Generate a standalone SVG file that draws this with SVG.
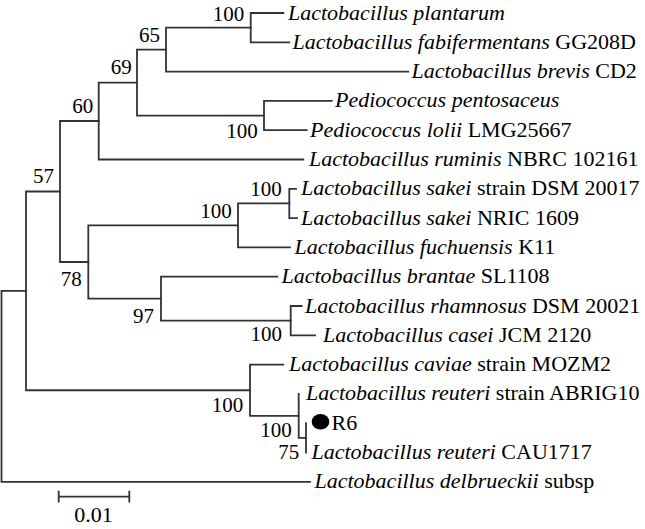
<svg xmlns="http://www.w3.org/2000/svg" width="645" height="529" viewBox="0 0 645 529">
<style>
.e{fill:none;stroke:#333;stroke-width:1.8;stroke-linecap:square}
.t{font-family:"Liberation Serif","Times New Roman",serif;font-size:22px;fill:#000}
.b{font-family:"Liberation Serif","Times New Roman",serif;font-size:21px;fill:#000;text-anchor:end}
.i{font-style:italic}
</style>
<rect width="645" height="529" fill="#fff"/>
<g id="connectors" class="e">
<path d="M1.5 290.9V481.8M1.5 290.9H26M1.5 481.8H310"/>
<path d="M26 191.5V390.25M26 191.5H60M26 390.25H250"/>
<path d="M60 121V262M60 121H98.7M60 262H88.3"/>
<path d="M98.7 82.6V159.5M98.7 82.6H137M98.7 159.5H303.3"/>
<path d="M137 49.6V115.55M137 49.6H166M137 115.55H264"/>
<path d="M166 27.65V71.6M166 27.65H250.7M166 71.6H408.3"/>
<path d="M250.7 13V42.3M250.7 13H283.3M250.7 42.3H289.3"/>
<path d="M264 100.9V130.2M264 100.9H331.7M264 130.2H306.7"/>
<path d="M88.3 225.4V298.7M88.3 225.4H238M88.3 298.7H161"/>
<path d="M238 203.45V247.4M238 203.45H289.3M238 247.4H290"/>
<path d="M289.3 188.8V218.1M289.3 188.8H296M289.3 218.1H297"/>
<path d="M161 276.7V320.65M161 276.7H277.3M161 320.65H290.7"/>
<path d="M290.7 306V335.3M290.7 306H301.7M290.7 335.3H315"/>
<path d="M250 364.6V415.9M250 364.6H283.3M250 415.9H298.7"/>
<path d="M298.7 393.9V437.85M298.7 437.85H306"/>
<path d="M306 423.2V452.5"/>
</g>
<g id="bootstrap">
<text class="b" x="244.3" y="20.7">100</text>
<text class="b" x="160" y="41.7">65</text>
<text class="b" x="131.7" y="74.3">69</text>
<text class="b" x="93.3" y="113.3">60</text>
<text class="b" x="257.7" y="138.3">100</text>
<text class="b" x="54" y="183.3">57</text>
<text class="b" x="281.7" y="195.7">100</text>
<text class="b" x="231.7" y="217.7">100</text>
<text class="b" x="81.7" y="286">78</text>
<text class="b" x="154" y="322.7">97</text>
<text class="b" x="282" y="341">100</text>
<text class="b" x="243.3" y="411.7">100</text>
<text class="b" x="291.7" y="436.7">100</text>
<text class="b" x="299.3" y="459.2">75</text>
</g>
<g id="leaf-plantarum"><text class="t" x="288" y="19.5"><tspan class="i">Lactobacillus plantarum</tspan></text></g>
<g id="leaf-fabifermentans"><text class="t" x="292.5" y="48.8"><tspan class="i">Lactobacillus fabifermentans</tspan> GG208D</text></g>
<g id="leaf-brevis"><text class="t" x="411.5" y="78.1"><tspan class="i">Lactobacillus brevis</tspan> CD2</text></g>
<g id="leaf-pentosaceus"><text class="t" x="335" y="107.4"><tspan class="i">Pediococcus pentosaceus</tspan></text></g>
<g id="leaf-lolii"><text class="t" x="310" y="136.7"><tspan class="i">Pediococcus lolii</tspan> LMG25667</text></g>
<g id="leaf-ruminis"><text class="t" x="309" y="166"><tspan class="i">Lactobacillus ruminis</tspan> NBRC 102161</text></g>
<g id="leaf-sakei-dsm"><text class="t" x="301" y="195.3"><tspan class="i">Lactobacillus sakei</tspan> strain DSM 20017</text></g>
<g id="leaf-sakei-nric"><text class="t" x="301" y="224.6"><tspan class="i">Lactobacillus sakei</tspan> NRIC 1609</text></g>
<g id="leaf-fuchuensis"><text class="t" x="294.5" y="253.9"><tspan class="i">Lactobacillus fuchuensis</tspan> K11</text></g>
<g id="leaf-brantae"><text class="t" x="281.5" y="283.2"><tspan class="i">Lactobacillus brantae</tspan> SL1108</text></g>
<g id="leaf-rhamnosus"><text class="t" x="305" y="312.5"><tspan class="i">Lactobacillus rhamnosus</tspan> DSM 20021</text></g>
<g id="leaf-casei"><text class="t" x="323" y="341.8"><tspan class="i">Lactobacillus casei</tspan> JCM 2120</text></g>
<g id="leaf-caviae"><text class="t" x="289" y="371.1"><tspan class="i">Lactobacillus caviae</tspan> strain MOZM2</text></g>
<g id="leaf-reuteri-abrig10"><text class="t" x="306" y="400.4"><tspan class="i">Lactobacillus reuteri</tspan> strain ABRIG10</text></g>
<g id="leaf-r6"><ellipse cx="320.5" cy="421.7" rx="8.8" ry="7.7" fill="#000"/><text class="t" x="331.5" y="429.7">R6</text></g>
<g id="leaf-reuteri-cau1717"><text class="t" x="311.5" y="459"><tspan class="i">Lactobacillus reuteri</tspan> CAU1717</text></g>
<g id="leaf-delbrueckii"><text class="t" x="314.5" y="488.3"><tspan class="i">Lactobacillus delbrueckii</tspan> subsp</text></g>
<g id="scale-bar">
<path class="e" d="M58.7 496.7H129.3M58.7 491.7V501.7M129.3 491.7V501.7"/>
<text class="t" x="93.5" y="521.7" text-anchor="middle" font-size="21">0.01</text>
</g>
</svg>
